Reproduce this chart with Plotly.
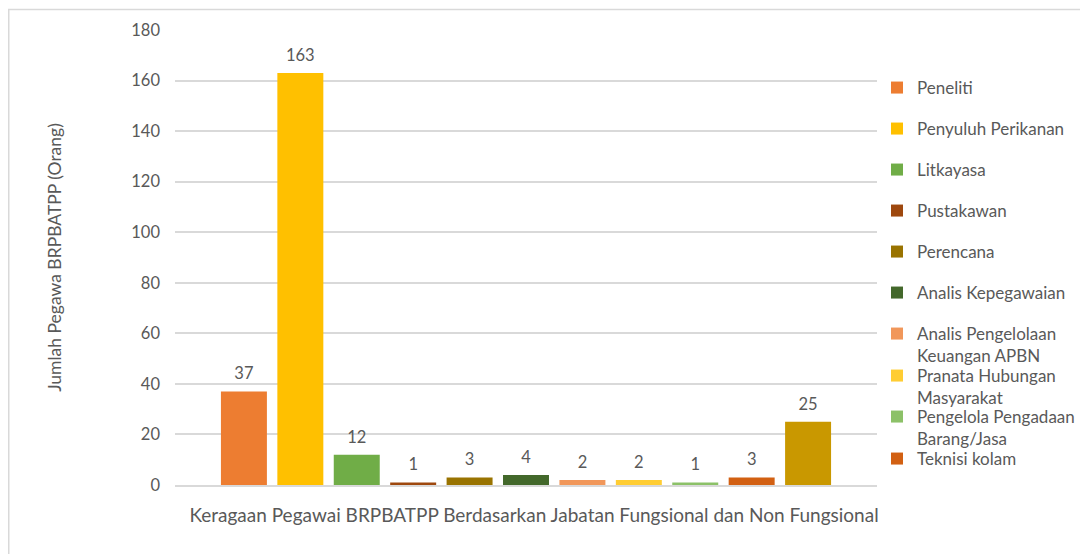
import plotly.graph_objects as go

category = ["Keragaan Pegawai BRPBATPP Berdasarkan Jabatan Fungsional dan Non Fungsional"]
series_names = [
    "Peneliti",
    "Penyuluh Perikanan",
    "Litkayasa",
    "Pustakawan",
    "Perencana",
    "Analis Kepegawaian",
    "Analis Pengelolaan<br>Keuangan APBN",
    "Pranata Hubungan<br>Masyarakat",
    "Pengelola Pengadaan<br>Barang/Jasa",
    "Teknisi kolam",
    "Non Fungsional",
]
values = [37, 163, 12, 1, 3, 4, 2, 2, 1, 3, 25]
colors = ["#ED7D31", "#FFC000", "#70AD47", "#9E480E", "#997300", "#43682B",
          "#F1975A", "#FFCD33", "#8CC168", "#D26012", "#C99800"]
show_in_legend = [True] * 10 + [False]

FONT = "Lato"
GRAY = "#595959"

# figure is drawn inside the page with an 8px body margin
OFF = 8
W, H = 1088 - OFF, 554 - OFF
L, T = 175 - OFF, 30 - OFF
R = W - (877 - OFF)
B = H - (485 - OFF)
pw, ph = W - L - R, H - T - B

def px_x(p):
    return (p - OFF - L) / pw

def px_y(p):
    return (H - B - (p - OFF)) / ph

def cx(p):
    return (p - OFF) / W

def cy(p):
    return 1 - (p - OFF) / H

legend_centers = [84, 125, 166, 207, 248, 289, 330, 372, 413, 455]

# spacer (non-breaking space in a larger size) lifts the data label a little off the bar
SP = "<span style='font-size:42px'>\u00a0</span>"

fig = go.Figure()
for i, (name, v, c) in enumerate(zip(series_names, values, colors)):
    kw = {}
    if show_in_legend[i]:
        kw["legend"] = "legend" if i == 0 else f"legend{i+1}"
    fig.add_trace(go.Bar(
        x=category, y=[v], name=name,
        marker=dict(color=c, line=dict(width=0)),
        text=[f"{SP}{v}{SP}"], textposition="outside",
        textfont=dict(family=FONT, size=16.5, color=GRAY),
        constraintext="none",
        showlegend=show_in_legend[i],
        cliponaxis=False,
        hovertemplate=f"{name.replace('<br>', ' ')}: %{{y}}<extra></extra>",
        **kw,
    ))

layout_legends = {}
for i, c_y in enumerate(legend_centers):
    key = "legend" if i == 0 else f"legend{i+1}"
    layout_legends[key] = dict(
        xref="container", yref="container",
        x=cx(877), xanchor="left",
        y=cy(c_y - 14), yanchor="top",
        font=dict(family=FONT, size=17, color=GRAY),
        bgcolor="rgba(0,0,0,0)", borderwidth=0,
        valign="top", itemclick=False,
    )

fig.update_layout(
    width=W, height=H,
    margin=dict(l=L, r=R, t=T, b=B, autoexpand=False),
    paper_bgcolor="white", plot_bgcolor="white",
    barmode="group", bargap=0.116, bargroupgap=0.185,
    font=dict(family=FONT, color=GRAY),
    xaxis=dict(
        showline=True, linecolor="#D9D9D9", linewidth=1.5,
        ticks="", tickfont=dict(family=FONT, size=19, color=GRAY),
        ticklabelstandoff=12, ticklabelshift=8,
    ),
    yaxis=dict(
        range=[0, 180], dtick=20, showgrid=True, gridcolor="#D9D9D9", gridwidth=1.5,
        zeroline=False, ticks="", tickfont=dict(family=FONT, size=16.5, color=GRAY),
        ticklabelstandoff=14,
        title=dict(text="Jumlah Pegawa BRPBATPP (Orang)",
                   font=dict(family=FONT, size=17.5, color=GRAY), standoff=65),
    ),
    shapes=[dict(type="rect", xref="paper", yref="paper",
                 x0=px_x(8.75), x1=px_x(1300), y0=px_y(900), y1=px_y(9.5),
                 line=dict(color="#D9D9D9", width=1.5), fillcolor="rgba(0,0,0,0)",
                 layer="below")],
    **layout_legends,
)

fig.write_html("out.html")
